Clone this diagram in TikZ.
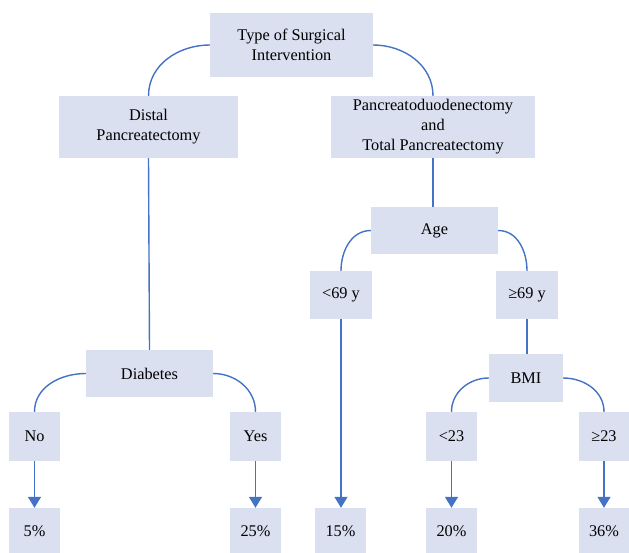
\documentclass[tikz,border=0pt]{standalone}
\usepackage{fontspec}
\setmainfont{Liberation Serif}
\usetikzlibrary{arrows.meta}
\definecolor{boxfill}{HTML}{DAE0F0}
\definecolor{linecol}{HTML}{4472C4}
\tikzset{
  box/.style={fill=boxfill, draw=none, rectangle, inner sep=0pt, align=center,
    font=\fontsize{16.3}{20}\selectfont, text=black},
  conn/.style={draw=linecol, line width=1.4pt},
  arr/.style={conn, -{Triangle[width=13pt,length=11pt]}}
}
\begin{document}
\begin{tikzpicture}[x=1pt,y=-1pt]
\useasboundingbox (0,0) rectangle (629,553);
\node[box, minimum width=163pt, minimum height=64pt] (top) at (291.5,45) {Type of Surgical\\Intervention};
\node[box, minimum width=179pt, minimum height=62pt] (distal) at (148.5,127) {Distal\\Pancreatectomy};
\node[box, minimum width=204pt, minimum height=62pt] (panc) at (433,127) {Pancreatoduodenectomy\\and\\Total Pancreatectomy};
\node[box, minimum width=127pt, minimum height=47pt] (age) at (434.5,230.5) {Age};
\node[box, minimum width=62pt, minimum height=48pt] (lt69) at (341,295) {<69 y};
\node[box, minimum width=62pt, minimum height=48pt] (ge69) at (527,295) {≥69 y};
\node[box, minimum width=127pt, minimum height=47pt] (diab) at (149.5,373.5) {Diabetes};
\node[box, minimum width=51pt, minimum height=49pt] (no) at (34.5,436.5) {No};
\node[box, minimum width=51pt, minimum height=49pt] (yes) at (255.5,436.5) {Yes};
\node[box, minimum width=74pt, minimum height=48pt] (bmi) at (526,378) {BMI};
\node[box, minimum width=51pt, minimum height=49pt] (lt23) at (451.5,436.5) {<23};
\node[box, minimum width=50pt, minimum height=49pt] (ge23) at (604,436.5) {≥23};
\node[box, minimum width=51pt, minimum height=46pt] (p5) at (34.5,531) {5\%};
\node[box, minimum width=51pt, minimum height=46pt] (p25) at (255.5,531) {25\%};
\node[box, minimum width=51pt, minimum height=46pt] (p15) at (340.5,531) {15\%};
\node[box, minimum width=51pt, minimum height=46pt] (p20) at (451.5,531) {20\%};
\node[box, minimum width=50pt, minimum height=46pt] (p36) at (604,531) {36\%};
% connectors
\draw[conn] (top.west) to[out=180,in=90] (distal.north);
\draw[conn] (top.east) to[out=0,in=90] (panc.north);
\draw[conn] (distal.south) -- (diab.north);
\draw[conn] (panc.south) -- (panc.south |- age.north);
\draw[conn] (age.west) to[out=180,in=90] (lt69.north);
\draw[conn] (age.east) to[out=0,in=90] (ge69.north);
\draw[conn] (ge69.south) -- (ge69.south |- bmi.north);
\draw[conn] (diab.west) to[out=180,in=90] (no.north);
\draw[conn] (diab.east) to[out=0,in=90] (yes.north);
\draw[conn] (bmi.west) to[out=180,in=90] (lt23.north);
\draw[conn] (bmi.east) to[out=0,in=90] (ge23.north);
\draw[arr] (no.south) -- (p5.north);
\draw[arr] (yes.south) -- (p25.north);
\draw[arr] (lt69.south) -- (lt69.south |- p15.north);
\draw[arr] (lt23.south) -- (p20.north);
\draw[arr] (ge23.south) -- (p36.north);
\end{tikzpicture}
\end{document}
